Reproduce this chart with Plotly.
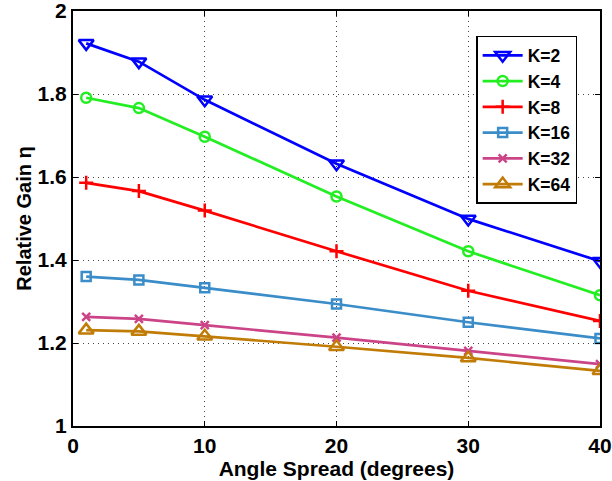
import plotly.graph_objects as go

angle = [1, 5, 10, 20, 30, 40]
k2 = [1.922, 1.878, 1.786, 1.632, 1.499, 1.397]
k4 = [1.791, 1.766, 1.697, 1.553, 1.421, 1.315]
k8 = [1.586, 1.566, 1.519, 1.421, 1.326, 1.253]
k16 = [1.360, 1.352, 1.333, 1.294, 1.250, 1.211]
k32 = [1.263, 1.258, 1.243, 1.213, 1.181, 1.149]
k64 = [1.231, 1.228, 1.216, 1.191, 1.164, 1.133]
y_ticks = [1, 1.2, 1.4, 1.6, 1.8, 2]
y_labels = ["1", "1.2", "1.4", "1.6", "1.8", "2"]
x_ticks = [0, 10, 20, 30, 40]

series = [
    ("K=2", k2, "#0000ff", "triangle-down-open", 13),
    ("K=4", k4, "#22ee22", "circle-open", 10),
    ("K=8", k8, "#ff0000", "cross-thin-open", 10),
    ("K=16", k16, "#3a8dc8", "square-open", 9),
    ("K=32", k32, "#cc4488", "x-thin-open", 8),
    ("K=64", k64, "#c07c06", "triangle-up-open", 13),
]

FONT = "Liberation Sans, Arial"

fig = go.Figure()
for name, ys, col, sym, sz in series:
    fig.add_trace(go.Scatter(
        x=angle, y=ys, name=name, mode="lines+markers",
        line=dict(color=col, width=2.7),
        marker=dict(symbol=sym, size=sz, color=col, line=dict(color=col, width=2.5)),
    ))

axis_common = dict(
    showline=True, linecolor="black", linewidth=2, mirror="ticks",
    ticks="inside", ticklen=5, tickwidth=1, tickcolor="black",
    showgrid=True, gridcolor="#444444", griddash="1px,4px", gridwidth=1,
    zeroline=False, automargin=False, ticklabeloverflow="allow",
    tickfont=dict(family=FONT, size=21, color="black", weight="bold"),
)

fig.update_xaxes(
    range=[0, 40], tickvals=x_ticks,
    title=dict(text="Angle Spread (degrees)", standoff=2,
               font=dict(family=FONT, size=21, color="black", weight="bold")),
    **axis_common,
)
fig.update_yaxes(
    range=[1, 2], tickvals=y_ticks, ticktext=y_labels,
    title=dict(text="Relative Gain η", standoff=1,
               font=dict(family=FONT, size=20, color="black", weight="bold")),
    **axis_common,
)

fig.update_layout(
    width=612, height=481,
    margin=dict(l=73, r=12, t=11, b=55, autoexpand=False),
    paper_bgcolor="white", plot_bgcolor="white",
    showlegend=True,
    legend=dict(
        x=0.765, y=0.94, xanchor="left", yanchor="top",
        bgcolor="white", bordercolor="black", borderwidth=1.5,
        font=dict(family=FONT, size=17.5, color="black", weight="bold"),
        itemwidth=40, tracegroupgap=0,
    ),
)

fig.write_html(
    "out.html",
    config={"displayModeBar": False},
    post_script="document.body.style.margin='0';document.body.style.overflow='hidden';",
)
